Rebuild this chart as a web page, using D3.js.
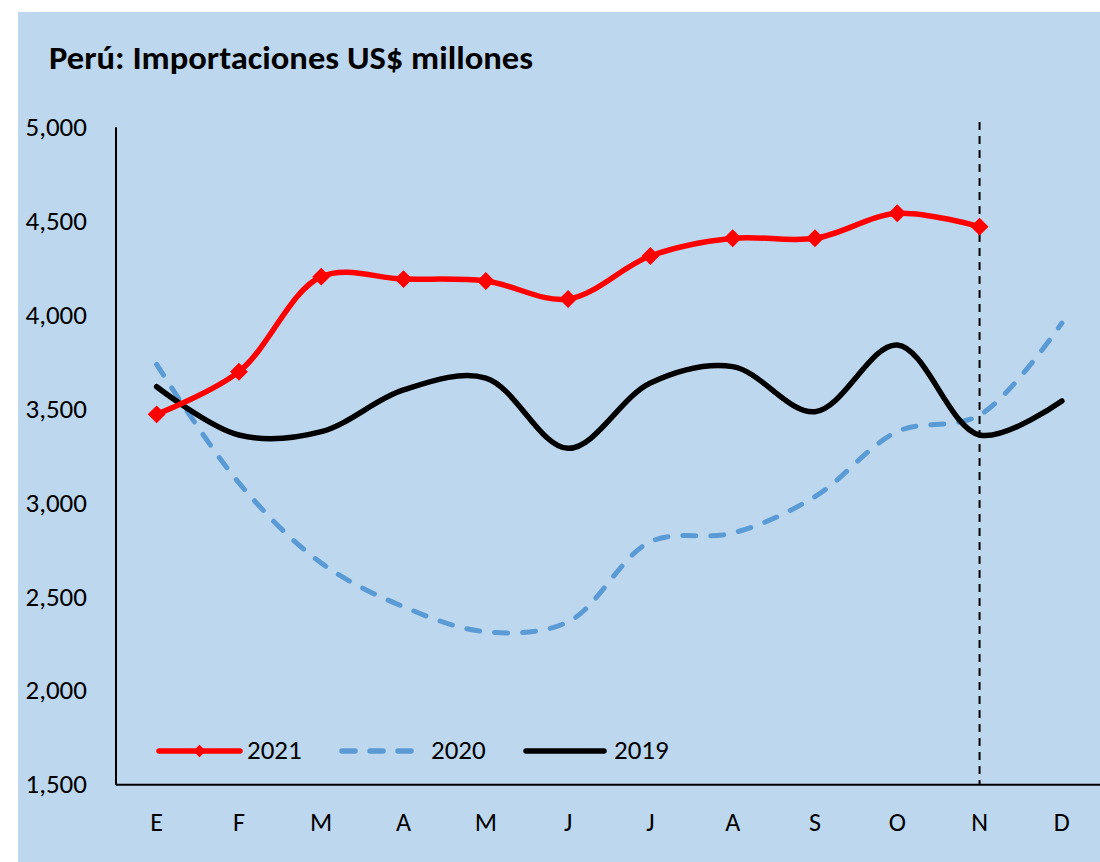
<!DOCTYPE html>
<html lang="es">
<head>
<meta charset="UTF-8">
<title>Perú: Importaciones US$ millones</title>
<script src="https://cdnjs.cloudflare.com/ajax/libs/d3/7.8.5/d3.min.js"></script>
<style>
    html, body { margin: 0; padding: 0; background: #ffffff; }
    svg { display: block; }
    text { font-family: Carlito, "Liberation Sans", Arial, sans-serif; fill: #000; }
</style>
</head>
<body>
<svg id="chart" width="1100" height="862"></svg>
<script>
    // data (US$ millones)
    const months = ["E", "F", "M", "A", "M", "J", "J", "A", "S", "O", "N", "D"];
    const yTicks = [1500, 2000, 2500, 3000, 3500, 4000, 4500, 5000];
    const imp2021 = [3469, 3696, 4202, 4189, 4179, 4083, 4312, 4406, 4406, 4539, 4468];
    const imp2020 = [3735, 3104, 2678, 2445, 2312, 2365, 2791, 2837, 3031, 3377, 3465, 3955];
    const imp2019 = [3616, 3359, 3377, 3599, 3662, 3288, 3636, 3723, 3483, 3838, 3359, 3540];
    const markerMonth = 10; // N, last month with 2021 data

    const svg = d3.select("#chart");

    // light blue chart area
    svg.append("rect")
        .attr("x", 18).attr("y", 12)
        .attr("width", 1082).attr("height", 850)
        .attr("fill", "#BDD7EE");

    svg.append("text")
        .attr("x", 49).attr("y", 69)
        .attr("font-size", 33)
        .attr("font-weight", "bold")
        .attr("textLength", 484)
        .attr("lengthAdjust", "spacingAndGlyphs")
        .text("Perú: Importaciones US$ millones");

    const x = d3.scaleBand()
        .domain(d3.range(months.length))
        .range([115.5, 1103]);
    const y = d3.scaleLinear()
        .domain([1500, 5000])
        .range([784.3, 126.7]);
    const cx = i => x(i) + x.bandwidth() / 2;

    // axes
    const yAxis = svg.append("g")
        .attr("transform", "translate(115.5,0)")
        .call(d3.axisLeft(y).tickValues(yTicks).tickSize(0).tickPadding(28.5).tickFormat(d3.format(",")));
    yAxis.select(".domain").attr("stroke", "#000").attr("stroke-width", 2);
    yAxis.selectAll("text").attr("font-size", 27).attr("font-family", null);

    const xAxis = svg.append("g")
        .attr("transform", "translate(0,784.3)")
        .call(d3.axisBottom(x).tickSize(0).tickPadding(28).tickFormat(i => months[i]));
    xAxis.select(".domain").attr("stroke", "#000").attr("stroke-width", 2);
    xAxis.selectAll("text").attr("font-size", 26).attr("font-family", null);

    // vertical marker at the latest month
    svg.append("line")
        .attr("x1", cx(markerMonth)).attr("x2", cx(markerMonth))
        .attr("y1", 122).attr("y2", 784)
        .attr("stroke", "#000")
        .attr("stroke-width", 2)
        .attr("stroke-dasharray", "8,6");

    const line = d3.line()
        .x((d, i) => cx(i))
        .y(d => y(d))
        .curve(d3.curveCatmullRom);

    svg.append("path")
        .datum(imp2020)
        .attr("d", line)
        .attr("fill", "none")
        .attr("stroke", "#5B9BD5")
        .attr("stroke-width", 5)
        .attr("stroke-linecap", "round")
        .attr("stroke-dasharray", "13,15");

    svg.append("path")
        .datum(imp2019)
        .attr("d", line)
        .attr("fill", "none")
        .attr("stroke", "#000")
        .attr("stroke-width", 5.5)
        .attr("stroke-linecap", "round");

    svg.append("path")
        .datum(imp2021)
        .attr("d", line)
        .attr("fill", "none")
        .attr("stroke", "#FF0000")
        .attr("stroke-width", 5.5)
        .attr("stroke-linecap", "round");

    const diamond = d3.symbol(d3.symbolSquare, 160);
    svg.append("g")
        .selectAll("path")
        .data(imp2021)
        .join("path")
        .attr("d", diamond)
        .attr("transform", (d, i) => `translate(${cx(i)},${y(d)}) rotate(45)`)
        .attr("fill", "#FF0000");

    // legend
    const legend = [
        { name: "2021", color: "#FF0000", dash: null, marker: true, x0: 159, x1: 240, tx: 247 },
        { name: "2020", color: "#5B9BD5", dash: "13,15", marker: false, x0: 342, x1: 414, tx: 431 },
        { name: "2019", color: "#000", dash: null, marker: false, x0: 526, x1: 604, tx: 614 }
    ];
    const lg = svg.append("g").attr("transform", "translate(0,751)");
    legend.forEach(s => {
        lg.append("line")
            .attr("x1", s.x0).attr("x2", s.x1)
            .attr("y1", 0).attr("y2", 0)
            .attr("stroke", s.color)
            .attr("stroke-width", 5.5)
            .attr("stroke-linecap", "round")
            .attr("stroke-dasharray", s.dash);
        if (s.marker) {
            lg.append("path")
                .attr("d", d3.symbol(d3.symbolSquare, 80))
                .attr("transform", `translate(${(s.x0 + s.x1) / 2},0) rotate(45)`)
                .attr("fill", s.color);
        }
        lg.append("text")
            .attr("x", s.tx).attr("y", 8)
            .attr("font-size", 27)
            .text(s.name);
    });
</script>
</body>
</html>
